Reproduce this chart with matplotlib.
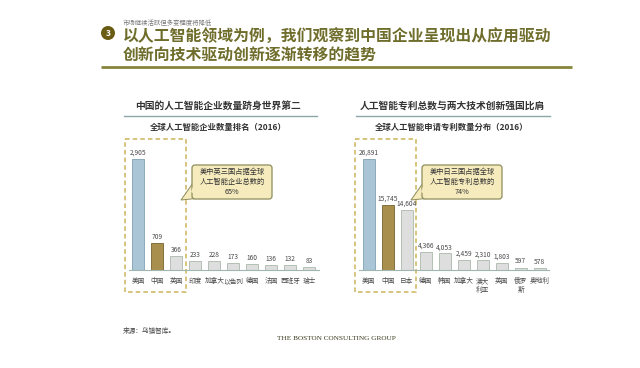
#!/usr/bin/env python3

import matplotlib
matplotlib.use('Agg')
import matplotlib.pyplot as plt
from matplotlib.patches import Circle, FancyBboxPatch, Polygon, Rectangle

plt.rcParams['font.family'] = ['Noto Sans CJK SC', 'DejaVu Sans']

# data
left_countries = ['美国', '中国', '英国', '印度', '加拿大', '以色列', '德国', '法国', '西班牙', '瑞士']
left_values = [2905, 709, 366, 233, 228, 173, 160, 136, 132, 83]
right_countries = ['美国', '中国', '日本', '德国', '韩国', '加拿大', '澳大\n利亚', '英国', '俄罗\n斯', '奥地利']
right_values = [26891, 15745, 14604, 4366, 4053, 2459, 2310, 1803, 597, 578]

W, H = 640, 368
OLIVE = '#6f6d2b'
TEXT = '#4a4a4a'
CALL_FILL = '#f6ebbd'
CALL_EDGE = '#8d8d5c'
fig = plt.figure(figsize=(W / 100, H / 100), dpi=100, facecolor='white')

# overlay in pixel coordinates for the slide furniture
bg = fig.add_axes([0, 0, 1, 1])
bg.set_xlim(0, W)
bg.set_ylim(H, 0)
bg.axis('off')


def draw_bars(x0, values, labels):
    # x0 is the left pixel edge of the axes, bars sit 19 px apart
    ax = fig.add_axes([x0 / W, 1 - 270 / H, 190 / W, 111 / H])
    colors = ['#a9c5d6', '#a88f4e'] + ['#dedede'] * 8
    edges = ['#8aabbd', '#85713c'] + ['#b5c0b5'] * 8
    ax.bar(range(len(values)), values, width=0.63, color=colors, edgecolor=edges, linewidth=0.7)
    ax.set_xlim(-0.5, 9.5)
    ax.set_ylim(0, max(values))
    for i, v in enumerate(values):
        ax.annotate(f'{v:,}', (i, v), xytext=(0, 1.5), textcoords='offset points',
                    ha='center', va='bottom', fontsize=4.8, color=TEXT, annotation_clip=False)
    ax.set_xticks(range(len(values)))
    ax.set_xticklabels(labels, fontsize=4.8, color=TEXT, linespacing=1.1)
    ax.tick_params(axis='x', length=0, pad=5)
    ax.set_yticks([])
    for s in ['top', 'left', 'right']:
        ax.spines[s].set_visible(False)
    ax.spines['bottom'].set_color('#9fb5b0')
    ax.spines['bottom'].set_linewidth(0.8)
    ax.patch.set_alpha(0)
    return ax


def draw_panel(x_mid, rule0, rule1, box_x, call_x, head, sub, call_text):
    bg.text(x_mid, 106, head, ha='center', va='center', fontsize=7, fontweight='bold', color='#333333')
    bg.plot([rule0, rule1], [116, 116], color='#8aa6a6', lw=1)
    bg.text(x_mid, 127, sub, ha='center', va='center', fontsize=6, fontweight='bold', color='#333333')
    bg.add_patch(Rectangle((box_x, 139), 61, 153, fill=False, ec='#cdb55a', lw=1.1, ls=(0, (3, 2))))
    # callout with tail, the fill-only copy on top hides the box edge at the join
    tail = [(call_x + 1, 183), (box_x + 56, 200), (call_x + 9, 198)]
    bg.add_patch(Polygon(tail, fc=CALL_FILL, ec=CALL_EDGE, lw=0.7, zorder=3))
    bg.add_patch(FancyBboxPatch((call_x + 3, 168), 74, 28, boxstyle='round,pad=3',
                                mutation_scale=1, fc=CALL_FILL, ec=CALL_EDGE, lw=0.9, zorder=4))
    inner = [(call_x + 2, 184), (call_x - 1, 192), (call_x + 8, 197), (call_x + 6, 190)]
    bg.add_patch(Polygon(inner, fc=CALL_FILL, ec='none', zorder=5))
    bg.text(call_x + 40, 182, call_text, ha='center', va='center', fontsize=5.2,
            color='#333333', linespacing=1.35, zorder=6)


# header
bg.add_patch(Circle((108, 33), 7, fc='#6b5c14', ec='none'))
bg.text(108, 33, '3', ha='center', va='center', fontsize=6, color='white', fontweight='bold')
bg.text(123, 23, '市场继续活跃但多变程度将降低', ha='left', va='center', fontsize=4.6, color='#777777')
bg.text(123, 37, '以人工智能领域为例，我们观察到中国企业呈现出从应用驱动', ha='left', va='center',
        fontsize=11.4, fontweight='bold', color=OLIVE)
bg.text(123, 56, '创新向技术驱动创新逐渐转移的趋势', ha='left', va='center',
        fontsize=11.4, fontweight='bold', color=OLIVE)
bg.plot([101, 572], [67, 67], color='#87853c', lw=2, solid_capstyle='butt')

draw_panel(218, 124, 317, 125, 192, '中国的人工智能企业数量跻身世界第二', '全球人工智能企业数量排名（2016）',
           '美中英三国占据全球\n人工智能企业总数的\n65%')
draw_panel(452, 356, 550, 355, 422, '人工智能专利总数与两大技术创新强国比肩', '全球人工智能申请专利数量分布（2016）',
           '美中日三国占据全球\n人工智能专利总数的\n74%')

draw_bars(128.8, left_values, left_countries)
draw_bars(359.2, right_values, right_countries)

# footer
bg.text(123, 331, '来源：乌镇智库。', ha='left', va='center', fontsize=4.8, color='#444444')
bg.text(336, 338, 'THE BOSTON CONSULTING GROUP', ha='center', va='center', fontsize=5.2,
        family='Liberation Serif', color='#3a3a1e')

fig.savefig('out.png', dpi=100)
